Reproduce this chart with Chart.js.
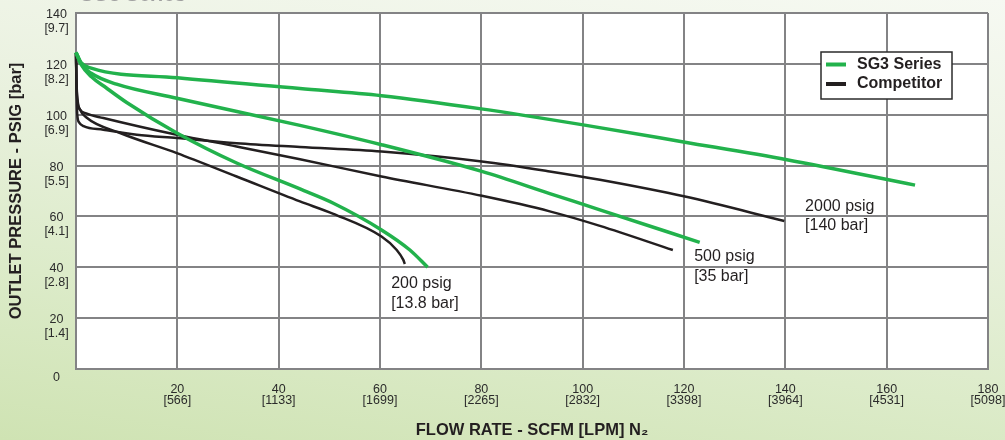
<!DOCTYPE html>
<html><head><meta charset="utf-8">
<script src="https://cdn.jsdelivr.net/npm/chart.js@4.4.0/dist/chart.umd.min.js"></script>
<style>
html,body{margin:0;padding:0;}
body{width:1005px;height:440px;overflow:hidden;background:linear-gradient(188deg,#f6f9f2 0%,#ebf2e1 35%,#dcebc9 70%,#cfe3b3 100%);}
#wrap{position:relative;width:1005px;height:440px;}
</style></head><body>
<div id="wrap"><canvas id="c" width="1005" height="440"></canvas></div>
<script>
// ---- tick labels ----
const xTickSCFM = [0, 20, 40, 60, 80, 100, 120, 140, 160, 180];
const xTickLPM  = ['', '566', '1133', '1699', '2265', '2832', '3398', '3964', '4531', '5098'];
const yTickPSIG = [0, 20, 40, 60, 80, 100, 120, 140];
const yTickBar  = ['', '1.4', '2.8', '4.1', '5.5', '6.9', '8.2', '9.7'];

// ---- series names ----
const seriesSG3 = 'SG3 Series';
const seriesComp = 'Competitor';

// ---- SG3 Series curves (flow SCFM, outlet psig) ----
const sg3_2000_x = [0, 1, 3, 20, 44.2, 60.3, 80, 100.1, 120.2, 140.3, 165.6];
const sg3_2000_y = [124.5, 120.5, 118.3, 114.5, 110.3, 107.5, 102.3, 96, 89.2, 82.3, 72.3];

const sg3_500_x = [0, 1, 3, 8, 19.9, 44.2, 60.3, 80.1, 93.5, 103.4, 123.1];
const sg3_500_y = [124.5, 120, 116.3, 112, 106.5, 95.8, 88.2, 77.7, 69, 62.6, 49.8];

const sg3_200_x = [0, 1, 3, 6, 10, 19.9, 31.7, 44.2, 50.8, 60.3, 65.9, 69.4];
const sg3_200_y = [124.5, 119.8, 115, 110.5, 104.8, 92.8, 81, 70.8, 65.2, 54.7, 46.8, 40];

// ---- Competitor curves ----
const comp_2000_x = [0, 0.1, 0.25, 0.6, 1.5, 5.4, 12, 19.9, 31.7, 44.2, 60.3, 80.1, 93.5, 103.4, 120.2, 139.8];
const comp_2000_y = [124.3, 110, 100, 97, 95.5, 94.1, 92.1, 90.8, 88.8, 87.3, 85.5, 81.6, 77.7, 74.4, 67.8, 58.2];

const comp_500_x = [0, 0.1, 0.3, 0.8, 2, 5.4, 19.9, 31.7, 44.2, 60.3, 80.1, 93.5, 103.4, 117.8];
const comp_500_y = [124.3, 112, 105, 102, 100.5, 98.7, 92.1, 87.5, 82.5, 75.7, 68.1, 62, 56.3, 46.8];

const comp_200_x = [0, 0.1, 0.3, 0.8, 2, 8.7, 19.9, 31.7, 44.2, 50.8, 60.3, 63.3, 64.6, 64.9];
const comp_200_y = [124.3, 113, 106, 102, 99, 92.8, 84.9, 75.7, 65.9, 61, 52.1, 46.8, 42.9, 41.3];

// ---- curve labels ----
const curveLabelText = [['2000 psig', '[140 bar]'], ['500 psig', '[35 bar]'], ['200 psig', '[13.8 bar]']];
const curveLabelAt = [[143.9, 63.9], [122.0, 44.2], [62.2, 33.5]];

const GREEN = '#22b24c';
const BLACK = '#231f20';
const GRID = '#838385';
const FONT = '"Liberation Sans", Arial, sans-serif';

function pts(xs, ys) { return xs.map((x, i) => ({ x: x, y: ys[i] })); }

function ds(label, xs, ys, color, w) {
  return {
    label: label,
    data: pts(xs, ys),
    borderColor: color,
    backgroundColor: color,
    borderWidth: w,
    pointRadius: 0,
    fill: false,
    cubicInterpolationMode: 'monotone',
    clip: false,
    borderCapStyle: 'butt'
  };
}

const decorPlugin = {
  id: 'decor',
  beforeDraw(chart) {
    const { ctx, chartArea: a } = chart;
    ctx.save();
    ctx.fillStyle = '#ffffff';
    ctx.fillRect(a.left, a.top, a.right - a.left, a.bottom - a.top);
    // cropped page heading at very top
    ctx.font = 'bold 20px ' + FONT;
    ctx.fillStyle = '#a0a0a0';
    ctx.textBaseline = 'alphabetic';
    ctx.textAlign = 'left';
    ctx.fillText(seriesSG3, 80, 0.5);
    ctx.restore();
  },
  afterDraw(chart) {
    const { ctx, scales } = chart;
    const xs = scales.x, ys = scales.y;
    ctx.save();
    // curve labels
    ctx.font = '16px ' + FONT;
    ctx.fillStyle = '#231f20';
    ctx.textBaseline = 'middle';
    ctx.textAlign = 'left';
    curveLabelText.forEach((lines, i) => {
      const px = xs.getPixelForValue(curveLabelAt[i][0]);
      const py = ys.getPixelForValue(curveLabelAt[i][1]);
      lines.forEach((t, j) => ctx.fillText(t, px, py + j * 19.5));
    });
    // legend box
    const bx = 821, by = 52, bw = 131, bh = 47;
    ctx.fillStyle = '#ffffff';
    ctx.fillRect(bx, by, bw, bh);
    ctx.strokeStyle = '#2b2b2b';
    ctx.lineWidth = 1.5;
    ctx.strokeRect(bx, by, bw, bh);
    const entries = [[seriesSG3, GREEN], [seriesComp, BLACK]];
    ctx.font = 'bold 16px ' + FONT;
    entries.forEach((e, i) => {
      const y = by + 12.5 + i * 19.5;
      ctx.strokeStyle = e[1];
      ctx.lineWidth = 4;
      ctx.beginPath();
      ctx.moveTo(bx + 5, y);
      ctx.lineTo(bx + 25, y);
      ctx.stroke();
      ctx.fillStyle = '#231f20';
      ctx.fillText(e[0], bx + 36, y);
    });
    ctx.restore();
  }
};

new Chart(document.getElementById('c'), {
  type: 'line',
  data: {
    datasets: [
      ds(seriesSG3, sg3_2000_x, sg3_2000_y, GREEN, 3.5),
      ds(seriesSG3, sg3_500_x, sg3_500_y, GREEN, 3.5),
      ds(seriesSG3, sg3_200_x, sg3_200_y, GREEN, 3.5),
      ds(seriesComp, comp_2000_x, comp_2000_y, BLACK, 2.5),
      ds(seriesComp, comp_500_x, comp_500_y, BLACK, 2.5),
      ds(seriesComp, comp_200_x, comp_200_y, BLACK, 2.5)
    ]
  },
  options: {
    responsive: false,
    devicePixelRatio: 1,
    animation: false,
    layout: { padding: { left: 0, right: 17, top: 13, bottom: 0 } },
    plugins: { legend: { display: false }, tooltip: { enabled: false } },
    scales: {
      x: {
        type: 'linear',
        min: 0, max: 180,
        afterBuildTicks: s => { s.ticks = xTickSCFM.map(v => ({ value: v })); },
        afterFit: s => { s.height = 71; s.paddingLeft = 0; s.paddingRight = 0; },
        ticks: {
          autoSkip: false, maxRotation: 0,
          padding: 14.5,
          color: '#2b2b2b',
          font: { family: FONT, size: 12.5, lineHeight: 0.92 },
          callback: v => { const i = xTickSCFM.indexOf(v); return v === 0 ? '' : [String(v), '[' + xTickLPM[i] + ']']; }
        },
        grid: { color: GRID, lineWidth: 2, drawTicks: false },
        border: { color: GRID, width: 2 },
        title: {
          display: true, text: 'FLOW RATE - SCFM [LPM] N₂', color: '#231f20',
          font: { family: FONT, size: 16.5, weight: 'bold', lineHeight: 1.15 },
          padding: { top: 0, bottom: 0 }
        }
      },
      y: {
        type: 'linear',
        min: 0, max: 140,
        afterBuildTicks: s => { s.ticks = yTickPSIG.map(v => ({ value: v })); },
        afterFit: s => { s.width = 76; s.paddingTop = 0; s.paddingBottom = 0; },
        ticks: {
          autoSkip: false,
          padding: 7.3,
          crossAlign: 'center',
          labelOffset: 8.5,
          color: '#2b2b2b',
          font: { family: FONT, size: 12.5, lineHeight: 14 / 12.5 },
          callback: v => { const i = yTickPSIG.indexOf(v); return v === 0 ? '0' : [String(v), '[' + yTickBar[i] + ']']; }
        },
        grid: { color: GRID, lineWidth: 2, drawTicks: false },
        border: { color: GRID, width: 2 },
        title: {
          display: true, text: 'OUTLET PRESSURE - PSIG [bar]', color: '#231f20',
          font: { family: FONT, size: 16.5, weight: 'bold', lineHeight: 1.2 },
          padding: { top: 6.1, bottom: 0 }
        }
      }
    }
  },
  plugins: [decorPlugin]
});
</script>
</body></html>
